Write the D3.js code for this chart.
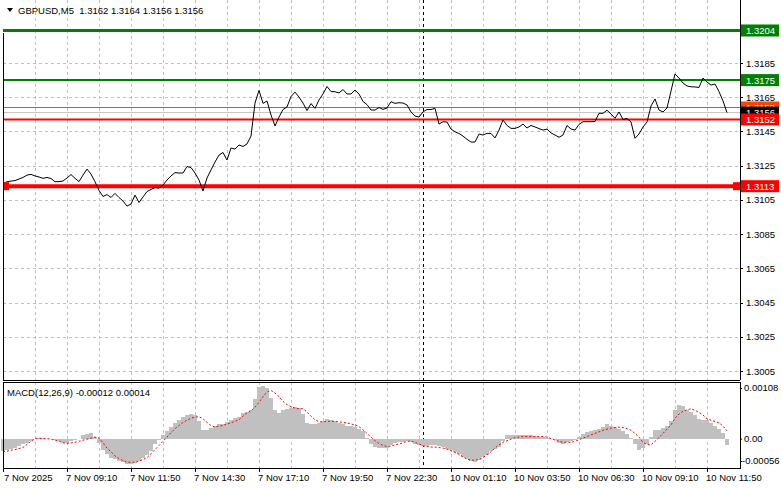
<!DOCTYPE html>
<html><head><meta charset="utf-8">
<script src="https://cdn.jsdelivr.net/npm/d3@7"></script>
<style>
body{margin:0;background:#fff;}
svg text{font-family:"Liberation Sans",Arial,sans-serif;font-size:9.5px;}
</style>
</head><body>
<svg id="chart" width="781" height="489"></svg>
<script>
// ---------------- DATA ----------------
const symbolTitle = "GBPUSD,M5  1.3162 1.3164 1.3156 1.3156";
const macdTitle = "MACD(12,26,9) -0.00012 0.00014";
const barStep = 2;          // one sample every 2 M5 bars (10 minutes)
const totalBars = 362;

const closePrice = [1.31147,1.31156,1.31160,1.31163,1.31172,1.31181,1.31195,1.31199,1.31190,1.31184,
1.31176,1.31181,1.31175,1.31156,1.31157,1.31160,1.31178,1.31198,1.31176,1.31157,
1.31195,1.31230,1.31201,1.31156,1.31105,1.31070,1.31081,1.31064,1.31088,1.31064,
1.31043,1.31014,1.31026,1.31078,1.31035,1.31067,1.31099,1.31111,1.31122,1.31119,
1.31137,1.31166,1.31190,1.31209,1.31207,1.31207,1.31245,1.31239,1.31207,1.31166,
1.31102,1.31178,1.31225,1.31271,1.31312,1.31327,1.31283,1.31353,1.31347,1.31371,
1.31362,1.31377,1.31423,1.31616,1.31690,1.31614,1.31628,1.31546,1.31482,1.31534,
1.31578,1.31593,1.31654,1.31680,1.31651,1.31616,1.31572,1.31613,1.31585,1.31634,
1.31669,1.31713,1.31683,1.31682,1.31675,1.31695,1.31669,1.31669,1.31692,1.31669,
1.31625,1.31607,1.31575,1.31575,1.31590,1.31579,1.31587,1.31624,1.31614,1.31618,
1.31616,1.31605,1.31564,1.31540,1.31534,1.31564,1.31578,1.31578,1.31585,1.31493,
1.31507,1.31505,1.31464,1.31448,1.31438,1.31423,1.31404,1.31388,1.31388,1.31435,
1.31429,1.31439,1.31438,1.31412,1.31458,1.31517,1.31485,1.31468,1.31468,1.31476,
1.31493,1.31470,1.31485,1.31476,1.31467,1.31458,1.31464,1.31441,1.31429,1.31416,
1.31429,1.31485,1.31464,1.31458,1.31491,1.31507,1.31507,1.31507,1.31508,1.31556,
1.31556,1.31574,1.31552,1.31527,1.31564,1.31520,1.31526,1.31505,1.31410,1.31435,
1.31476,1.31505,1.31599,1.31640,1.31575,1.31564,1.31587,1.31686,1.31786,1.31762,
1.31733,1.31716,1.31711,1.31710,1.31707,1.31762,1.31739,1.31721,1.31727,1.31683,
1.31628,1.31560];

const macdHist = [-0.00023,-0.00021,-0.00019,-0.00017,-0.00014,-0.00011,-0.00008,-0.00004,-0.00001,0.00001,
0.00001,0,-0.00001,-0.00003,-0.00005,-0.00008,-0.00008,-0.00005,-0.00003,0,
0.00006,0.00008,0.00010,0.00004,-0.00008,-0.00021,-0.00029,-0.00036,-0.00038,-0.00042,
-0.00045,-0.00048,-0.00048,-0.00046,-0.00042,-0.00037,-0.00031,-0.00023,-0.00011,-0.00002,
0.00006,0.00014,0.00022,0.00030,0.00036,0.00041,0.00045,0.00047,0.00046,0.00033,
0.00017,0.00017,0.00020,0.00025,0.00027,0.00028,0.00032,0.00035,0.00040,0.00041,
0.00049,0.00051,0.00055,0.00075,0.00098,0.00100,0.00097,0.00078,0.00054,0.00049,
0.00054,0.00056,0.00059,0.00061,0.00059,0.00047,0.00030,0.00027,0.00027,0.00029,
0.00033,0.00038,0.00036,0.00033,0.00030,0.00027,0.00025,0.00024,0.00022,0.00018,
0.00014,0.00001,-0.00011,-0.00016,-0.00017,-0.00017,-0.00017,-0.00013,-0.00008,-0.00007,
-0.00007,-0.00005,-0.00007,-0.00010,-0.00012,-0.00014,-0.00014,-0.00013,-0.00013,-0.00014,
-0.00016,-0.00019,-0.00022,-0.00025,-0.00030,-0.00035,-0.00039,-0.00043,-0.00045,-0.00040,
-0.00035,-0.00031,-0.00024,-0.00020,-0.00016,-0.00005,0.00007,0.00006,0.00007,0.00007,
0.00006,0.00006,0.00006,0.00005,0.00004,0.00004,0.00002,0,-0.00003,-0.00008,
-0.00011,-0.00007,-0.00004,-0.00002,0.00003,0.00009,0.00012,0.00014,0.00016,0.00018,
0.00022,0.00027,0.00025,0.00022,0.00018,0.00014,0.00008,0.00001,-0.00011,-0.00021,
-0.00018,-0.00010,0.00004,0.00017,0.00017,0.00020,0.00025,0.00033,0.00055,0.00065,
0.00063,0.00055,0.00050,0.00046,0.00038,0.00035,0.00035,0.00030,0.00025,0.00018,
0.00010,-0.00012];

const macdSignal = [-0.00025,-0.00024,-0.00022,-0.00021,-0.00019,-0.00017,-0.00011,-0.00005,0,0.00001,
0,0,-0.00001,-0.00003,-0.00005,-0.00008,-0.00009,-0.00008,-0.00007,-0.00005,
-0.00003,-0.00001,0.00001,0.00003,0.00001,-0.00008,-0.00018,-0.00025,-0.00033,-0.00038,
-0.00042,-0.00045,-0.00045,-0.00045,-0.00043,-0.00040,-0.00036,-0.00029,-0.00021,-0.00013,
-0.00005,0.00003,0.00011,0.00019,0.00025,0.00031,0.00035,0.00039,0.00041,0.00042,
0.00038,0.00031,0.00025,0.00022,0.00024,0.00025,0.00028,0.00030,0.00033,0.00036,
0.00043,0.00049,0.00053,0.00060,0.00069,0.00080,0.00089,0.00092,0.00087,0.00080,
0.00071,0.00065,0.00061,0.00058,0.00057,0.00057,0.00051,0.00043,0.00036,0.00032,
0.00032,0.00033,0.00033,0.00033,0.00032,0.00031,0.00030,0.00028,0.00026,0.00023,
0.00017,0.00010,0.00003,-0.00004,-0.00009,-0.00013,-0.00015,-0.00014,-0.00012,-0.00010,
-0.00008,-0.00005,-0.00005,-0.00007,-0.00010,-0.00014,-0.00015,-0.00016,-0.00016,-0.00017,
-0.00018,-0.00020,-0.00023,-0.00026,-0.00030,-0.00035,-0.00039,-0.00041,-0.00041,-0.00040,
-0.00036,-0.00031,-0.00025,-0.00018,-0.00012,-0.00007,-0.00004,-0.00001,0.00002,0.00003,
0.00004,0.00004,0.00004,0.00004,0.00004,0.00004,0.00003,0,-0.00003,-0.00005,
-0.00007,-0.00007,-0.00007,-0.00005,-0.00002,0.00001,0.00004,0.00007,0.00010,0.00013,
0.00016,0.00018,0.00020,0.00021,0.00022,0.00021,0.00019,0.00016,0.00010,0.00003,
-0.00007,-0.00011,-0.00012,-0.00005,0.00002,0.00010,0.00018,0.00026,0.00039,0.00047,
0.00052,0.00055,0.00057,0.00054,0.00050,0.00045,0.00038,0.00035,0.00033,0.00030,
0.00024,0.00015];

const timeTickBars = [0,32,64,96,128,160,192,224,256,288,320,352];
const timeTickLabels = ["7 Nov 2025","7 Nov 09:10","7 Nov 11:50","7 Nov 14:30","7 Nov 17:10","7 Nov 19:50",
  "7 Nov 22:30","10 Nov 01:10","10 Nov 03:50","10 Nov 06:30","10 Nov 09:10","10 Nov 11:50"];
const gridEveryBars = 16;
const daySeparatorBar = 210;

const priceTicks = [1.3005,1.3025,1.3045,1.3065,1.3085,1.3105,1.3125,1.3145,1.3165,1.3185];
const priceDomain = [1.3005, 1.3185];

const levelPrices = [1.3204, 1.3175, 1.3159, 1.3156, 1.3152, 1.3113];
const levelLabels = ["1.3204","1.3175","1.3159","1.3156","1.3152","1.3113"];

const macdTicks = [0.00108, 0, -0.00056];
const macdTickLabels = ["0.00108","0.00","-0.00056"];
const macdDomain = [-0.00056, 0.00108];

// ---------------- STYLE / LAYOUT ----------------
const levelStyle = [
  {line:"#008000", width:3, box:"#008000"},
  {line:"#008000", width:2, box:"#008000"},
  {line:"#FF4500", width:1, box:"#FF4500"},
  {line:"#C0C0C0", width:1, box:"#000000"},
  {line:"#FF0000", width:2, box:"#FF0000"},
  {line:"#FF0000", width:4, box:"#FF0000", ends:true}
];
const L = 3, R = 740;
const mainTop = 0, mainBot = 380, macdTop = 382, macdBot = 468;

const svg = d3.select("#chart");
svg.append("rect").attr("width",781).attr("height",489).attr("fill","#fff");

const x = d3.scaleLinear().domain([0,totalBars]).range([L, L + 2*totalBars]);
const yP = d3.scaleLinear().domain(priceDomain).range([371, 63]);
const yM = d3.scaleLinear().domain(macdDomain).range([macdBot, macdTop]);

const gridColor = "#C0C0C0";
// vertical grid
const gridBars = d3.range(gridEveryBars, totalBars + 1, gridEveryBars).filter(b => x(b) < R - 2);
[[mainTop, mainBot],[macdTop, macdBot]].forEach(([t,b]) => {
  svg.append("g").selectAll("line").data(gridBars).join("line")
    .attr("x1", d => Math.round(x(d)) + 0.5).attr("x2", d => Math.round(x(d)) + 0.5)
    .attr("y1", t).attr("y2", b)
    .attr("stroke", gridColor).attr("stroke-dasharray","3,3");
});
// horizontal grid (main)
svg.append("g").selectAll("line").data(priceTicks).join("line")
  .attr("x1", L).attr("x2", R)
  .attr("y1", d => Math.round(yP(d)) + 0.5).attr("y2", d => Math.round(yP(d)) + 0.5)
  .attr("stroke", gridColor).attr("stroke-dasharray","3,3");

// day separator
svg.append("line")
  .attr("x1", Math.round(x(daySeparatorBar)) + 0.5).attr("x2", Math.round(x(daySeparatorBar)) + 0.5)
  .attr("y1", mainTop).attr("y2", macdBot)
  .attr("stroke","#000").attr("stroke-dasharray","3,3");

// level lines
levelPrices.forEach((p,i) => {
  const st = levelStyle[i];
  svg.append("line").attr("x1", L).attr("x2", R)
    .attr("y1", yP(p)).attr("y2", yP(p))
    .attr("stroke", st.line).attr("stroke-width", st.width);
});

// price line
const priceLine = d3.line().x((d,i) => x(i*barStep)).y(d => yP(d));
svg.append("path").datum(closePrice).attr("d", priceLine)
  .attr("fill","none").attr("stroke","#000").attr("stroke-width",1);

// end squares of the thick level
levelPrices.forEach((p,i) => {
  if (!levelStyle[i].ends) return;
  const yy = yP(p);
  svg.append("rect").attr("x", L).attr("y", yy-4).attr("width",6).attr("height",8).attr("fill", levelStyle[i].line);
  svg.append("rect").attr("x", R-7).attr("y", yy-4).attr("width",7).attr("height",8).attr("fill", levelStyle[i].line);
});

// MACD histogram
svg.append("g").selectAll("rect").data(macdHist).join("rect")
  .attr("x", (d,i) => x(i*barStep) - barStep)
  .attr("width", 2*barStep)
  .attr("y", d => Math.min(yM(d), yM(0)))
  .attr("height", d => Math.abs(yM(d) - yM(0)))
  .attr("fill", "#C0C0C0").attr("shape-rendering","crispEdges");
// signal
const sigLine = d3.line().x((d,i) => x(i*barStep)).y(d => yM(d));
svg.append("path").datum(macdSignal).attr("d", sigLine)
  .attr("fill","none").attr("stroke","#FF0000").attr("stroke-width",1).attr("stroke-dasharray","2,2");

// frames
svg.append("line").attr("x1",L+0.5).attr("x2",L+0.5).attr("y1",33).attr("y2",mainBot).attr("stroke","#000");
svg.append("line").attr("x1",L).attr("x2",R).attr("y1",mainBot+0.5).attr("y2",mainBot+0.5).attr("stroke","#000");
svg.append("line").attr("x1",R+0.5).attr("x2",R+0.5).attr("y1",mainTop).attr("y2",mainBot).attr("stroke","#000");
svg.append("rect").attr("x",L+0.5).attr("y",macdTop+0.5).attr("width",R-L).attr("height",macdBot-macdTop)
  .attr("fill","none").attr("stroke","#000");

// price axis labels
svg.append("g").selectAll("text").data(priceTicks).join("text")
  .attr("x", R + 6).attr("y", d => yP(d) + 3.5)
  .attr("fill","#000").text(d => d.toFixed(4));
svg.append("g").selectAll("line").data(priceTicks).join("line")
  .attr("x1", R).attr("x2", R+3).attr("y1", d => Math.round(yP(d))+0.5).attr("y2", d => Math.round(yP(d))+0.5)
  .attr("stroke","#000");

// level labels
levelPrices.forEach((p,i) => {
  const st = levelStyle[i];
  const yy = yP(p);
  svg.append("rect").attr("x", R+1).attr("y", yy-6).attr("width", 38).attr("height", 12).attr("fill", st.box);
  svg.append("text").attr("x", R+6).attr("y", yy+3.5).attr("fill","#fff").text(levelLabels[i]);
});

// MACD axis labels (kept inside the panel)
svg.append("g").selectAll("text").data(macdTicks).join("text")
  .attr("x", d => d < 0 ? R + 2 : R + 4)
  .attr("y", d => Math.max(macdTop + 9, Math.min(macdBot - 4, yM(d) + 3.5)))
  .attr("fill","#000").text((d,i) => macdTickLabels[i]);
svg.append("g").selectAll("line").data(macdTicks).join("line")
  .attr("x1", R).attr("x2", R+2)
  .attr("y1", d => Math.max(macdTop + 6, Math.min(macdBot - 7, yM(d)))+0.5)
  .attr("y2", d => Math.max(macdTop + 6, Math.min(macdBot - 7, yM(d)))+0.5)
  .attr("stroke","#000");

// time axis
svg.append("g").selectAll("line").data(timeTickBars).join("line")
  .attr("x1", d => Math.round(x(d))+0.5).attr("x2", d => Math.round(x(d))+0.5)
  .attr("y1", macdBot).attr("y2", macdBot+4).attr("stroke","#000");
svg.append("g").selectAll("text").data(timeTickBars).join("text")
  .attr("x", (d,i) => i === 0 ? x(d) + 1 : x(d) - 1)
  .attr("y", 481).attr("fill","#000").text((d,i) => timeTickLabels[i]);

// titles
svg.append("path").attr("d","M7,8 L13,8 L10,12 Z").attr("fill","#000");
svg.append("text").attr("x",18).attr("y",14).attr("fill","#000").attr("xml:space","preserve").text(symbolTitle);
svg.append("text").attr("x",7).attr("y",396).attr("fill","#000").text(macdTitle);
</script>
</body></html>
